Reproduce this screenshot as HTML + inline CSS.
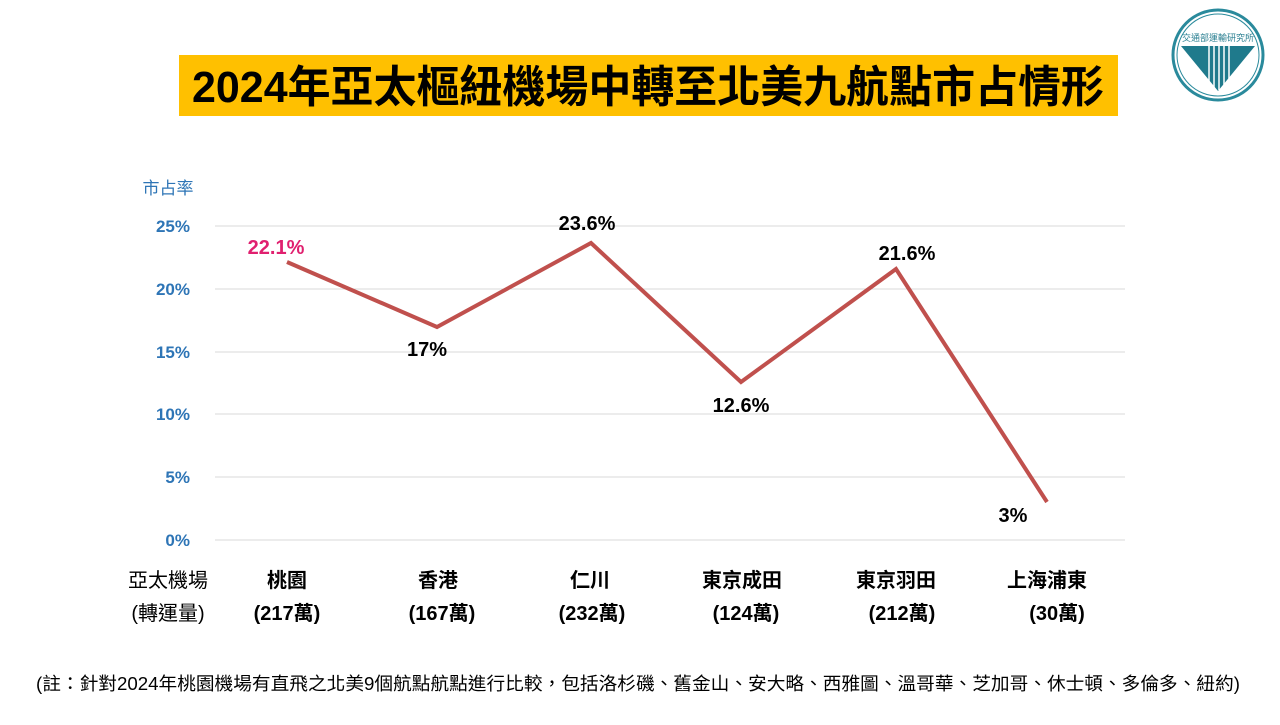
<!DOCTYPE html>
<html><head><meta charset="utf-8">
<style>
body{margin:0;width:1280px;height:720px;background:#fff;overflow:hidden;font-family:"Liberation Sans","Noto Sans CJK TC",sans-serif;}
</style></head><body>
<svg width="1280" height="720" xmlns="http://www.w3.org/2000/svg" font-family="Liberation Sans, Noto Sans CJK TC, sans-serif">
<rect x="179" y="55" width="939" height="61" fill="#ffc000"/>
<text x="648" y="102" text-anchor="middle" font-size="44" font-weight="bold" fill="#000" textLength="912" lengthAdjust="spacingAndGlyphs">2024年亞太樞紐機場中轉至北美九航點市占情形</text>
<circle cx="1218" cy="55" r="45" fill="#fff" stroke="#2a8a9c" stroke-width="3"/>
<circle cx="1218" cy="55" r="41" fill="none" stroke="#2a8a9c" stroke-width="1"/>
<text x="1218" y="41" text-anchor="middle" font-size="9" fill="#2a7f91">交通部運輸研究所</text>
<polygon points="1181,46 1255,46 1218,91" fill="#1f7a8c"/>
<g stroke="#fff" stroke-width="1.5"><line x1="1209" y1="46" x2="1209" y2="82"/><line x1="1214" y1="46" x2="1214" y2="88"/><line x1="1219" y1="46" x2="1219" y2="90"/><line x1="1224" y1="46" x2="1224" y2="86"/><line x1="1229" y1="46" x2="1229" y2="80"/></g>
<text x="168" y="194" text-anchor="middle" font-size="17" fill="#2e75b6">市占率</text>
<g stroke="#d9d9d9" stroke-width="1">
<line x1="215" y1="226" x2="1125" y2="226"/><line x1="215" y1="289" x2="1125" y2="289"/><line x1="215" y1="352" x2="1125" y2="352"/><line x1="215" y1="414" x2="1125" y2="414"/><line x1="215" y1="477" x2="1125" y2="477"/><line x1="215" y1="540" x2="1125" y2="540"/>
</g>
<g font-size="17" font-weight="bold" fill="#2e75b6" text-anchor="end">
<text x="190" y="232">25%</text><text x="190" y="295">20%</text><text x="190" y="358">15%</text><text x="190" y="420">10%</text><text x="190" y="483">5%</text><text x="190" y="546">0%</text>
</g>
<polyline points="287,262 437,327 591,243 741,382 896,269 1047,502" fill="none" stroke="#c0504d" stroke-width="4" stroke-linejoin="miter"/>
<g font-size="20" font-weight="bold" fill="#000" text-anchor="middle">
<text x="276" y="254" fill="#e0206f">22.1%</text>
<text x="427" y="356">17%</text>
<text x="587" y="230">23.6%</text>
<text x="741" y="412">12.6%</text>
<text x="907" y="260">21.6%</text>
<text x="1013" y="522">3%</text>
</g>
<g font-size="20" fill="#000" text-anchor="middle">
<text x="168" y="587">亞太機場</text><text x="168" y="620">(轉運量)</text>
</g>
<g font-size="20" font-weight="bold" fill="#000" text-anchor="middle">
<text x="287" y="587">桃園</text><text x="287" y="620">(217萬)</text>
<text x="438" y="587">香港</text><text x="442" y="620">(167萬)</text>
<text x="590" y="587">仁川</text><text x="592" y="620">(232萬)</text>
<text x="742" y="587">東京成田</text><text x="746" y="620">(124萬)</text>
<text x="896" y="587">東京羽田</text><text x="902" y="620">(212萬)</text>
<text x="1047" y="587">上海浦東</text><text x="1057" y="620">(30萬)</text>
</g>
<text x="638" y="690" text-anchor="middle" font-size="18" fill="#000" textLength="1204" lengthAdjust="spacingAndGlyphs">(註：針對2024年桃園機場有直飛之北美9個航點航點進行比較，包括洛杉磯、舊金山、安大略、西雅圖、溫哥華、芝加哥、休士頓、多倫多、紐約)</text>
</svg>
</body></html>
